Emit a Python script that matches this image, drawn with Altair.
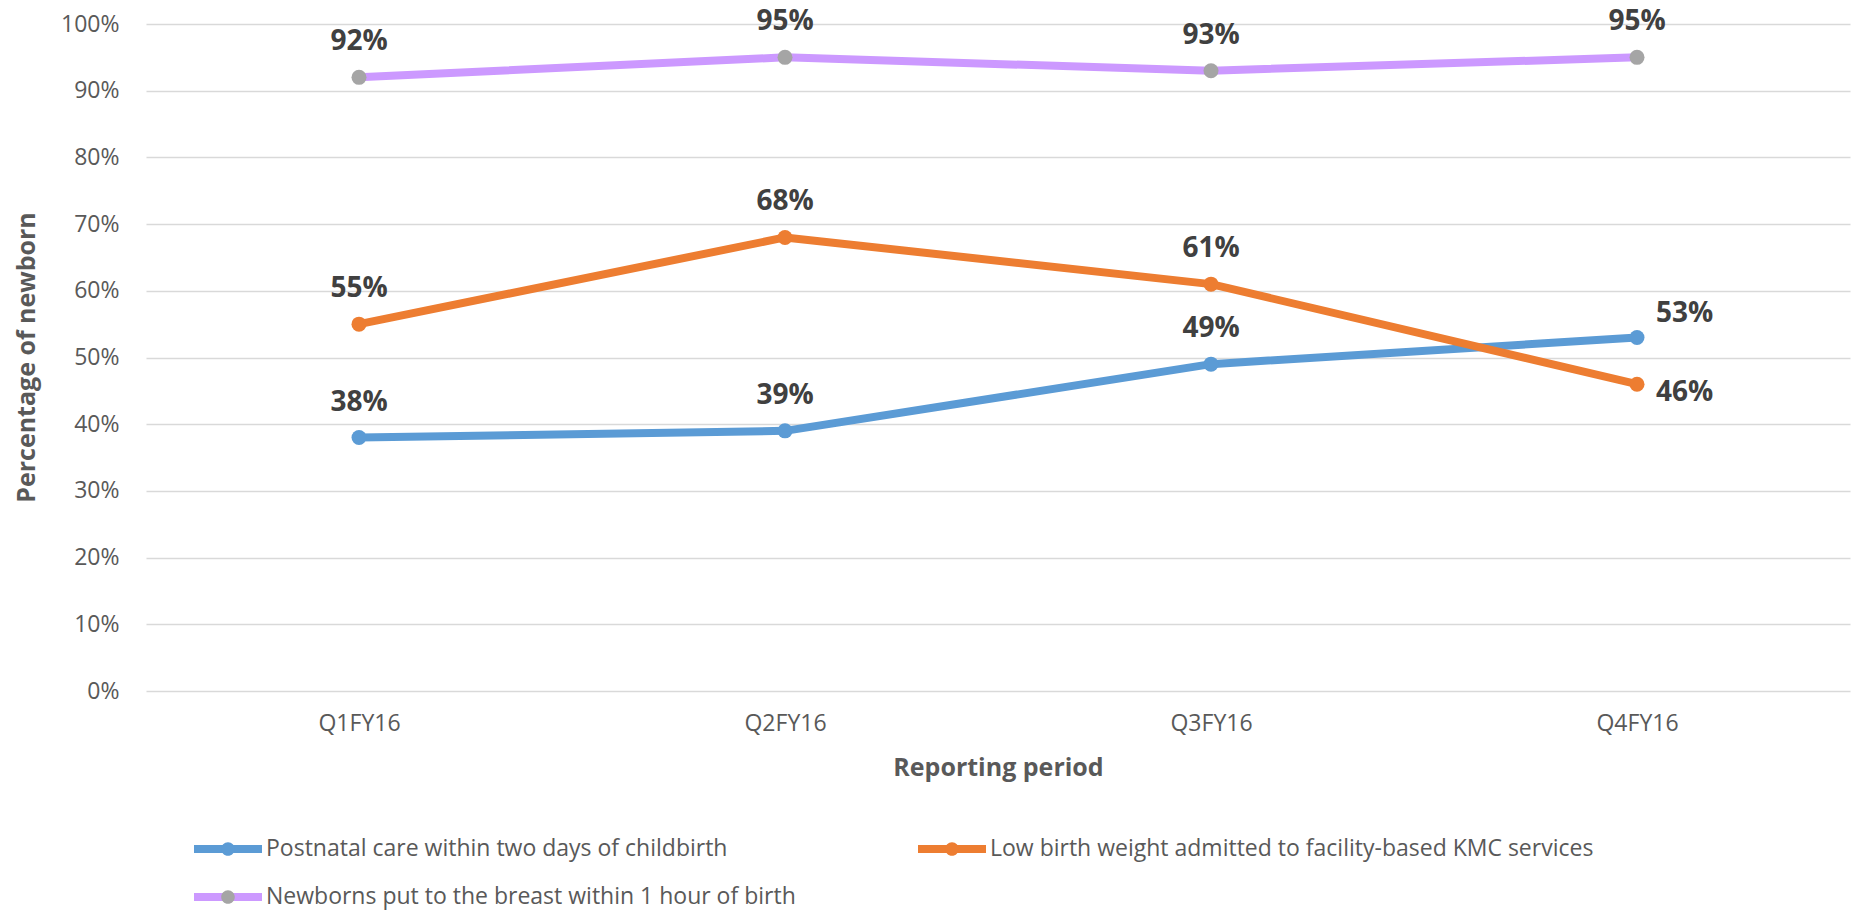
import altair as alt
import pandas as pd

periods = ["Q1FY16", "Q2FY16", "Q3FY16", "Q4FY16"]
series_names = [
    "Postnatal care within two days of childbirth",
    "Low birth weight admitted to facility-based KMC services",
    "Newborns put to the breast within 1 hour of birth",
]
postnatal = [38, 39, 49, 53]
low_birth_weight = [55, 68, 61, 46]
breastfed = [92, 95, 93, 95]
line_colors = ["#5b9bd5", "#ed7d31", "#cc99ff"]
marker_colors = ["#5b9bd5", "#ed7d31", "#a5a5a5"]
y_ticks = list(range(0, 101, 10))

rows = []
for name, vals in zip(series_names, [postnatal, low_birth_weight, breastfed]):
    for p, v in zip(periods, vals):
        rows.append({"period": p, "series": name, "marker": name, "value": v})
df = pd.DataFrame(rows)

FONT = "Open Sans"
AXIS_COLOR = "#595959"
LABEL_COLOR = "#404040"

x_enc = alt.X(
    "period:N",
    sort=periods,
    scale=alt.Scale(type="point", padding=0.5),
    axis=alt.Axis(
        title="Reporting period",
        labelAngle=0,
        labelFont=FONT,
        labelFontSize=23,
        labelColor=AXIS_COLOR,
        labelBaseline="middle",
        labelPadding=32,
        ticks=False,
        tickSize=0,
        domain=False,
        grid=False,
        titleFont=FONT,
        titleFontSize=25,
        titleFontWeight="bold",
        titleColor=AXIS_COLOR,
        titleBaseline="middle",
        titleY=76,
    ),
)
y_enc = alt.Y(
    "value:Q",
    scale=alt.Scale(domain=[0, 100], nice=False),
    axis=alt.Axis(
        title="Percentage of newborn",
        values=y_ticks,
        labelExpr="datum.value + '%'",
        labelFont=FONT,
        labelFontSize=23,
        labelColor=AXIS_COLOR,
        labelPadding=27,
        ticks=False,
        tickSize=0,
        domain=False,
        grid=True,
        gridColor="#d9d9d9",
        gridWidth=1.5,
        titleFont=FONT,
        titleFontSize=25,
        titleFontWeight="bold",
        titleColor=AXIS_COLOR,
        titleAngle=-90,
        titleAlign="center",
        titleBaseline="middle",
        titleX=-120,
        titleY=333,
    ),
)

legend_common = dict(
    orient="none",
    legendX=44,
    legendY=813,
    direction="horizontal",
    columns=2,
    clipHeight=24,
    labelFont=FONT,
    labelFontSize=23,
    labelColor=AXIS_COLOR,
    labelLimit=1000,
    labelOffset=0,
    rowPadding=24,
    padding=0,
    symbolSize=4624,
    symbolStrokeWidth=8,
)

# circle marker in the middle of a (zero-area) span as wide as the line symbol
CIRCLE_PATH = (
    "M -1 0 L 1 0 "
    "M -0.2 0 A 0.2 0.2 0 1 1 0.2 0 A 0.2 0.2 0 1 1 -0.2 0 Z"
)

lines = alt.Chart(df).mark_line(strokeWidth=8, strokeCap="round", strokeJoin="round").encode(
    x=x_enc,
    y=y_enc,
    color=alt.Color(
        "series:N",
        title=None,
        scale=alt.Scale(domain=series_names, range=line_colors),
        legend=alt.Legend(
            symbolType="stroke",
            columnPadding=118,
            **legend_common,
        ),
    ),
)

points = alt.Chart(df).mark_circle(size=225, opacity=1).encode(
    x=x_enc,
    y=y_enc,
    fill=alt.Fill(
        "marker:N",
        title=None,
        sort=series_names,
        scale=alt.Scale(range=marker_colors),
        legend=alt.Legend(
            symbolType=CIRCLE_PATH,
            symbolStrokeColor="transparent",
            labelExpr="''",
            columnPadding=648,
            **legend_common,
        ),
    ),
)

text_style = dict(font=FONT, fontSize=28, fontWeight="bold", color=LABEL_COLOR, baseline="middle")

labels_above = alt.Chart(df).transform_filter(
    "datum.period != 'Q4FY16' || datum.series == '" + series_names[2] + "'"
).transform_calculate(label="datum.value + '%'").mark_text(dy=-35, align="center", **text_style).encode(
    x=x_enc, y=y_enc, text="label:N"
)

labels_q4_blue = alt.Chart(df).transform_filter(
    "datum.period == 'Q4FY16' && datum.series == '" + series_names[0] + "'"
).transform_calculate(label="datum.value + '%'").mark_text(dx=19, dy=-23, align="left", **text_style).encode(
    x=x_enc, y=y_enc, text="label:N"
)

labels_q4_orange = alt.Chart(df).transform_filter(
    "datum.period == 'Q4FY16' && datum.series == '" + series_names[1] + "'"
).transform_calculate(label="datum.value + '%'").mark_text(dx=19, dy=9, align="left", **text_style).encode(
    x=x_enc, y=y_enc, text="label:N"
)

chart = alt.layer(lines, points, labels_above, labels_q4_blue, labels_q4_orange).properties(
    width=1704,
    height=667,
    padding={"left": 146, "top": 24, "right": 4, "bottom": 219},
    autosize="none",
    background="white",
).configure_view(strokeWidth=0)

chart.save("out.html", embed_options={"renderer": "svg", "actions": False})
